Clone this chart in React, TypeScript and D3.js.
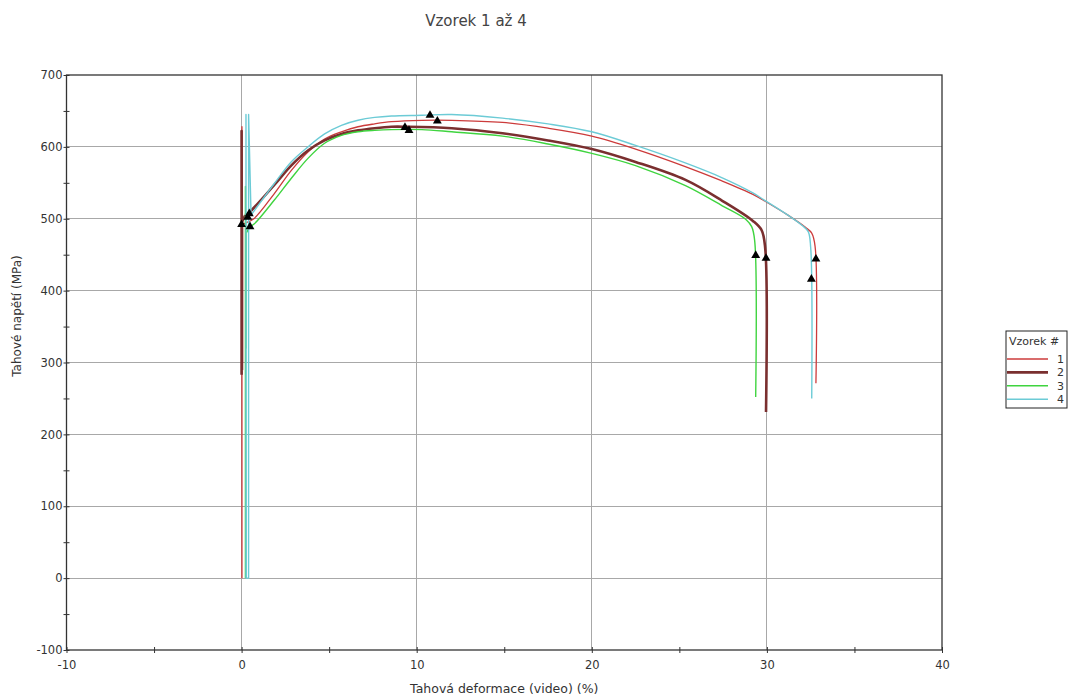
import { useEffect, useRef } from "react";
import * as d3 from "d3";

// Texts
const title = "Vzorek 1 až 4";
const xLabel = "Tahová deformace (video) (%)";
const yLabel = "Tahové napětí (MPa)";
const legendTitle = "Vzorek #";
const seriesNames = ["1", "2", "3", "4"];
const seriesColors = ["#cc3b3b", "#7a2f2f", "#3fd43f", "#6ccbd6"];
const seriesWidths = [1.3, 2.6, 1.4, 1.4];

// Ticks
const xMajorTicks = [-10, 0, 10, 20, 30, 40];
const xMinorTicks = [-5, 5, 15, 25, 35];
const yMajorTicks = [-100, 0, 100, 200, 300, 400, 500, 600, 700];
const yMinorTicks = [-50, 50, 150, 250, 350, 450, 550, 650];

// Vzorek 1
const strain1 = [0.02, 0.02, 0.05, 0.05, 0.3, 0.7, 1.87, 2.83, 3.79, 4.74, 5.7, 6.65, 7.6, 8.56, 10.3, 12, 14.9, 17.5, 20, 22.5, 25.3, 27.4, 29.2, 29.85, 31.2, 32.2, 32.56, 32.75, 32.8];
const stress1 = [0, 628, 300, 492, 495, 500, 535, 567, 593, 611, 621, 628, 632, 635, 637, 637, 634, 626, 615, 597, 573, 553, 534, 525, 505, 488, 480, 462, 271];
const marks1 = [[0.0, 492], [11.18, 636], [32.8, 444]];

// Vzorek 2
const strain2 = [0, 0, 0.02, 0.02, 0.2, 0.44, 1.87, 2.83, 3.79, 4.74, 5.7, 6.65, 7.6, 8.56, 9.4, 12, 14.9, 17.5, 20, 22.5, 25.35, 27.45, 29.2, 29.7, 29.9, 29.95];
const stress2 = [283, 622, 290, 495, 505, 509, 547, 574, 595, 609, 618, 623, 626, 628, 628, 626, 619, 609, 597, 579, 554, 525, 497, 484, 460, 231];
const marks2 = [[0.44, 507], [9.33, 627], [29.95, 445]];

// Vzorek 3
const strain3 = [0.22, 0.22, 0.26, 0.26, 0.48, 0.73, 1.87, 2.83, 3.79, 4.74, 5.7, 6.65, 7.6, 8.56, 10.3, 12, 14.9, 17.5, 20, 22.5, 25.35, 27.45, 28.8, 29.13, 29.3, 29.36];
const stress3 = [0, 545, 320, 480, 489, 493, 526, 556, 584, 605, 616, 621, 623, 624, 624, 621, 615, 604, 591, 574, 546, 518, 499, 489, 470, 252];
const marks3 = [[0.48, 489], [9.56, 623], [29.36, 449]];

// Vzorek 4
const strain4 = [0.25, 0.25, 0.27, 0.4, 0.4, 0.54, 1.87, 2.83, 3.79, 4.74, 5.7, 6.65, 7.6, 8.56, 10.3, 12, 14.9, 17.5, 20, 22.5, 25.3, 27.45, 29.2, 29.85, 31.2, 32.0, 32.36, 32.5, 32.56];
const stress4 = [0, 645, 0, 0, 645, 505, 549, 579, 600, 618, 630, 637, 641, 643, 644, 645, 640, 632, 621, 602, 578, 557, 536, 526, 505, 491, 482, 460, 250];
const marks4 = [[0.35, 502], [10.76, 644], [32.54, 416]];

const strains = [strain1, strain2, strain3, strain4];
const stresses = [stress1, stress2, stress3, stress4];
const marks = [marks1, marks2, marks3, marks4];
// index where the jagged start ends and the smooth curve begins
const smoothFrom = [4, 4, 4, 5];

const App = () => {
  const width = 1077;
  const height = 698;
  const left = 66.5;
  const right = 942;
  const top = 75;
  const bottom = 650;
  const font = "DejaVu Sans, Verdana, sans-serif";

  const svgRef = useRef<SVGSVGElement>(null);

  useEffect(() => {
    const svg = d3.select(svgRef.current);
    svg.selectAll("*").remove();

    const xScale = d3.scaleLinear().domain([-10, 40]).range([left, right]);
    const yScale = d3.scaleLinear().domain([-100, 700]).range([bottom, top]);

    // grid
    const grid = svg.append("g").attr("stroke", "#a8a8a8").attr("stroke-width", 1).attr("shape-rendering", "crispEdges");
    grid.selectAll(".gx")
      .data(xMajorTicks.slice(1, -1))
      .enter()
      .append("line")
      .attr("x1", (d) => xScale(d))
      .attr("x2", (d) => xScale(d))
      .attr("y1", top)
      .attr("y2", bottom);
    grid.selectAll(".gy")
      .data(yMajorTicks.slice(1, -1))
      .enter()
      .append("line")
      .attr("x1", left)
      .attr("x2", right)
      .attr("y1", (d) => yScale(d))
      .attr("y2", (d) => yScale(d));

    // axes: ticks crossing the axis line
    const styleAxis = (g: any) => {
      g.select(".domain").remove();
      g.selectAll("line").attr("stroke", "#333");
      g.selectAll("text").attr("fill", "#333").attr("font-family", font).attr("font-size", 11.5);
    };
    const plain = (d: any) => String(d);
    svg.append("g").attr("transform", `translate(0,${bottom})`)
      .call(d3.axisBottom(xScale).tickValues(xMajorTicks).tickSize(3).tickPadding(8).tickFormat(plain))
      .call(styleAxis);
    svg.append("g").attr("transform", `translate(0,${bottom})`)
      .call(d3.axisBottom(xScale).tickValues([...xMajorTicks, ...xMinorTicks]).tickSize(-3).tickFormat(() => ""))
      .call(styleAxis);
    svg.append("g").attr("transform", `translate(0,${bottom})`)
      .call(d3.axisBottom(xScale).tickValues(xMinorTicks).tickSize(3).tickFormat(() => ""))
      .call(styleAxis);
    svg.append("g").attr("transform", `translate(${left},0)`)
      .call(d3.axisLeft(yScale).tickValues(yMajorTicks).tickSize(3).tickPadding(1).tickFormat(plain))
      .call(styleAxis);
    svg.append("g").attr("transform", `translate(${left},0)`)
      .call(d3.axisLeft(yScale).tickValues([...yMajorTicks, ...yMinorTicks]).tickSize(-3).tickFormat(() => ""))
      .call(styleAxis);
    svg.append("g").attr("transform", `translate(${left},0)`)
      .call(d3.axisLeft(yScale).tickValues(yMinorTicks).tickSize(3).tickFormat(() => ""))
      .call(styleAxis);

    // frame
    svg.append("rect")
      .attr("x", left)
      .attr("y", top)
      .attr("width", right - left)
      .attr("height", bottom - top)
      .attr("fill", "none")
      .attr("stroke", "#333")
      .attr("stroke-width", 1.3);

    // curves: straight lines for the jagged start, smooth after
    const straight = d3.line<[number, number]>()
      .x((d) => xScale(d[0]))
      .y((d) => yScale(d[1]));
    const smooth = d3.line<[number, number]>()
      .x((d) => xScale(d[0]))
      .y((d) => yScale(d[1]))
      .curve(d3.curveCatmullRom.alpha(0.5));
    strains.forEach((xs, s) => {
      const pts = xs.map((x, i) => [x, stresses[s][i]] as [number, number]);
      const k = smoothFrom[s];
      const d = (straight(pts.slice(0, k + 1)) || "") + (smooth(pts.slice(k)) || "");
      svg.append("path")
        .attr("d", d)
        .attr("fill", "none")
        .attr("stroke", seriesColors[s])
        .attr("stroke-width", seriesWidths[s])
        .attr("stroke-linejoin", "round");
    });

    // triangle markers
    const tri = d3.symbol().type(d3.symbolTriangle).size(34);
    marks.forEach((m) => {
      svg.append("g")
        .selectAll("path")
        .data(m)
        .enter()
        .append("path")
        .attr("d", tri)
        .attr("transform", (d) => `translate(${xScale(d[0])},${yScale(d[1])})`)
        .attr("fill", "#000");
    });

    // titles
    svg.append("text")
      .attr("x", 476)
      .attr("y", 26)
      .attr("text-anchor", "middle")
      .attr("font-family", font)
      .attr("font-size", 15)
      .attr("fill", "#444")
      .text(title);
    svg.append("text")
      .attr("x", (left + right) / 2)
      .attr("y", 693)
      .attr("text-anchor", "middle")
      .attr("font-family", font)
      .attr("font-size", 12.5)
      .attr("fill", "#333")
      .text(xLabel);
    svg.append("text")
      .attr("transform", `translate(21,316) rotate(-90)`)
      .attr("text-anchor", "middle")
      .attr("font-family", font)
      .attr("font-size", 12)
      .attr("fill", "#333")
      .text(yLabel);

    // legend
    const lg = svg.append("g").attr("transform", "translate(1006,331)");
    lg.append("rect")
      .attr("width", 61)
      .attr("height", 77)
      .attr("fill", "#fff")
      .attr("stroke", "#222")
      .attr("stroke-width", 1);
    lg.append("text")
      .attr("x", 3)
      .attr("y", 14)
      .attr("font-family", font)
      .attr("font-size", 11)
      .attr("fill", "#333")
      .text(legendTitle);
    const items = lg.selectAll(".item")
      .data(seriesNames)
      .enter()
      .append("g")
      .attr("transform", (d, i) => `translate(0,${28 + i * 13.4})`);
    items.append("line")
      .attr("x1", 1)
      .attr("x2", 42)
      .attr("stroke", (d, i) => seriesColors[i])
      .attr("stroke-width", (d, i) => seriesWidths[i]);
    items.append("text")
      .attr("x", 58)
      .attr("y", 4)
      .attr("text-anchor", "end")
      .attr("font-family", font)
      .attr("font-size", 11)
      .attr("fill", "#333")
      .text((d) => d);
  }, []);

  return (
    <svg
      ref={svgRef}
      width={width}
      height={height}
      viewBox={`0 0 ${width} ${height}`}
      style={{ position: "absolute", left: 0, top: 0, background: "#fff" }}
    />
  );
};

export default App;
